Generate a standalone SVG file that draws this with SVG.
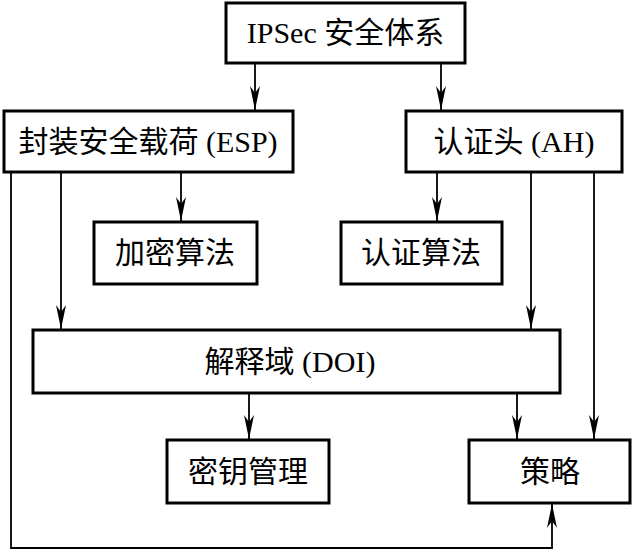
<svg xmlns="http://www.w3.org/2000/svg" width="633" height="551" viewBox="0 0 633 551">
<style>
.box{fill:#fff;stroke:#000;stroke-width:3}
.t{font-family:"Liberation Serif","Noto Sans CJK SC",serif;font-size:30px;fill:#000;text-anchor:middle}
.c{fill:none;stroke:#000;stroke-width:1.8}
</style>
<defs>
<marker id="ah" markerUnits="userSpaceOnUse" markerWidth="26" markerHeight="12" viewBox="-25 -6 26 12" refX="0" refY="0" orient="auto">
<path d="M0,0 L-24,-5 L-17,0 L-24,5 Z" fill="#000"/>
</marker>
</defs>
<rect width="633" height="551" fill="#fff"/>
<g id="connectors">
<path class="c" d="M255,63 V110" marker-end="url(#ah)"/>
<path class="c" d="M441,63 V110" marker-end="url(#ah)"/>
<path class="c" d="M61,172 V329" marker-end="url(#ah)"/>
<path class="c" d="M181,172 V221" marker-end="url(#ah)"/>
<path class="c" d="M11,172 V548 H552 V504" marker-end="url(#ah)"/>
<path class="c" d="M437,172 V221" marker-end="url(#ah)"/>
<path class="c" d="M531,172 V329" marker-end="url(#ah)"/>
<path class="c" d="M594,172 V439" marker-end="url(#ah)"/>
<path class="c" d="M249,393 V439" marker-end="url(#ah)"/>
<path class="c" d="M517,393 V439" marker-end="url(#ah)"/>
</g>
<g id="ipsec"><rect class="box" x="226" y="3" width="239" height="60"/><text class="t" x="345.5" y="43">IPSec 安全体系</text></g>
<g id="esp"><rect class="box" x="4" y="111" width="289" height="61"/><text class="t" x="148" y="152">封装安全载荷 (ESP)</text></g>
<g id="ah-node"><rect class="box" x="406" y="111" width="216" height="61"/><text class="t" x="514" y="152">认证头 (AH)</text></g>
<g id="enc"><rect class="box" x="94" y="222" width="163" height="62"/><text class="t" x="175" y="263">加密算法</text></g>
<g id="auth"><rect class="box" x="341" y="222" width="161" height="62"/><text class="t" x="421" y="263">认证算法</text></g>
<g id="doi"><rect class="box" x="33" y="330" width="527" height="63"/><text class="t" x="290" y="372">解释域 (DOI)</text></g>
<g id="key"><rect class="box" x="167" y="440" width="162" height="63"/><text class="t" x="248" y="482">密钥管理</text></g>
<g id="policy"><rect class="box" x="469" y="440" width="161" height="63"/><text class="t" x="550" y="482">策略</text></g>
</svg>
